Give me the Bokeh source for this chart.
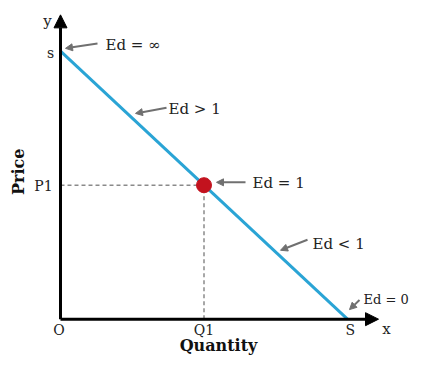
import math
from bokeh.plotting import figure
from bokeh.models import Range1d, Arrow, NormalHead
from bokeh.core.properties import value
from bokeh.embed import file_html
from bokeh.resources import INLINE

# ---- data ----
q_max = 10.0          # S : quantity intercept
p_max = 10.0          # s : price intercept
q1 = 5.0              # Q1
p1 = 5.0              # P1
x_tick_labels = ["O", "Q1", "S"]
y_tick_labels = ["s", "P1"]
elasticity_labels = ["Ed = \u221e", "Ed > 1", "Ed = 1", "Ed < 1", "Ed = 0"]
x_title = "Quantity"
y_title = "Price"

# reference-pixel geometry of the drawing -> data units
X0, Y0, SX, SY = 60.0, 333.0, 28.7, 28.0
def dx(px):
    return (px - X0) / SX
def dy(py):
    return (Y0 - py) / SY

W, H = 409, 356
p = figure(width=W, height=H, output_backend="svg", toolbar_location=None,
           x_range=Range1d(dx(0), dx(W)), y_range=Range1d(dy(372), dy(0)),
           x_axis_location=None, y_axis_location=None, min_border=0)
p.grid.visible = False
p.outline_line_color = None
p.background_fill_color = "white"

SERIF = value("DejaVu Serif")

# dashed guides
p.line([0, q1], [p1, p1], line_color="#8a8a8a", line_width=1.5, line_dash="4 3")
p.line([q1, q1], [0, p1], line_color="#8a8a8a", line_width=1.5, line_dash="4 3")

# demand line
p.line([0, q_max], [p_max, 0], line_color="#2aa4d5", line_width=3)

# axes with arrows
p.add_layout(Arrow(end=NormalHead(size=13, fill_color="black", line_color="black"),
                   x_start=0, y_start=0, x_end=dx(378), y_end=0,
                   line_color="black", line_width=3))
p.add_layout(Arrow(end=NormalHead(size=13, fill_color="black", line_color="black"),
                   x_start=0, y_start=0, x_end=0, y_end=dy(15),
                   line_color="black", line_width=3))

# unit elastic point
p.scatter([q1], [p1], size=15, fill_color="#c3121e", line_color="#c3121e")

# axis letters
p.text([dx(47)], [dy(21)], text=["y"], text_font=SERIF, text_font_size="15px",
       text_align="center", text_baseline="middle", text_color="#222222")
p.text([dx(386)], [dy(343)], text=["x"], text_font=SERIF, text_font_size="15px",
       text_align="center", text_baseline="middle", text_color="#222222")

# tick labels (x)
p.text([0 - 0.05, q1, q_max + 0.1], [dy(344)] * 3, text=x_tick_labels, text_font=SERIF,
       text_font_size="14px", text_align="center", text_baseline="middle", text_color="#222222")
# tick labels (y)
p.text([dx(50), dx(43)], [p_max - 0.05, p1 - 0.02], text=y_tick_labels, text_font=SERIF,
       text_font_size="14px", text_align="center", text_baseline="middle", text_color="#222222")

# titles
p.text([dx(218)], [dy(360)], text=[x_title], text_font=SERIF, text_font_size="16px",
       text_font_style="bold", text_align="center", text_baseline="middle", text_color="#111111")
p.text([dx(18)], [dy(179)], text=[y_title], text_font=SERIF, text_font_size="16px",
       text_font_style="bold", text_align="center", text_baseline="middle",
       angle=math.pi / 2, text_color="#111111")

# elasticity annotations
label_pos = [(105, 47), (168, 113), (252, 191), (312, 254)]
arrow_pos = [((97, 45), (65, 50)), ((166, 112), (135, 118)), ((245, 190), (216, 190)),
             ((307, 250), (280, 261)), ((359, 313), (349, 323))]
p.text([dx(a) for a, b in label_pos], [dy(b) for a, b in label_pos], text=elasticity_labels[:4],
       text_font=SERIF, text_font_size="15px", text_align="left", text_baseline="middle",
       text_color="#222222")
p.text([dx(363)], [dy(312)], text=elasticity_labels[4:], text_font=SERIF, text_font_size="13px",
       text_align="left", text_baseline="middle", text_color="#222222")
for (t, h) in arrow_pos:
    p.add_layout(Arrow(end=NormalHead(size=7, fill_color="#707070", line_color="#707070"),
                       x_start=dx(t[0]), y_start=dy(t[1]), x_end=dx(h[0]), y_end=dy(h[1]),
                       line_color="#707070", line_width=2))

open("out.html", "w").write(file_html(p, INLINE))
